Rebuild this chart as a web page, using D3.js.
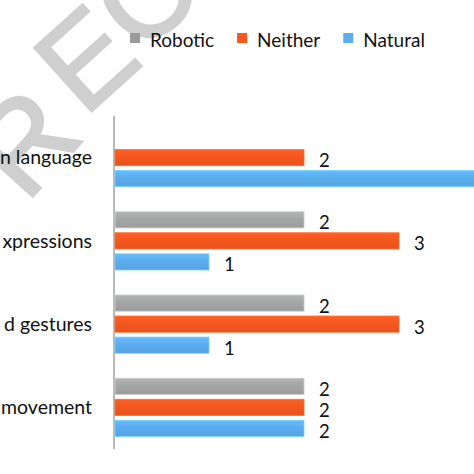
<!DOCTYPE html>
<html>
<head>
<meta charset="utf-8">
<script src="https://cdn.jsdelivr.net/npm/d3@7"></script>
<style>
  body { margin: 0; background: #fff; }
  svg { display: block; font-family: Lato, "Open Sans", sans-serif; }
</style>
</head>
<body>
<div id="chart"></div>
<script>
const width = 474, height = 474;

// data (top to bottom); labels as far as the crop shows them
const categories = ["n language", "xpressions", "d gestures", "movement"];
const series = ["Robotic", "Neither", "Natural"];
const robotic = [0, 2, 2, 2];
const neither = [2, 3, 3, 2];
const natural = [4, 1, 1, 2];
const colors = ["#a4a6a5", "#f4571f", "#5cacee"];

const values = [robotic, neither, natural];

const svg = d3.select("#chart").append("svg")
  .attr("width", width)
  .attr("height", height);

const defs = svg.append("defs");
colors.forEach((c, i) => {
  const g = defs.append("linearGradient")
    .attr("id", "grad" + i)
    .attr("x1", 0).attr("y1", 0).attr("x2", 0).attr("y2", 1);
  g.append("stop").attr("offset", "0%").attr("stop-color", d3.color(c).brighter(0.25));
  g.append("stop").attr("offset", "45%").attr("stop-color", c);
  g.append("stop").attr("offset", "100%").attr("stop-color", d3.color(c).darker(0.15));
});

// watermark, letters laid along an arc
const stamp = [
  {ch: "R", t: "translate(26,204) rotate(-48)"},
  {ch: "E", t: "translate(84,118) rotate(-42)"},
  {ch: "C", t: "translate(138,56) rotate(-40)"}
];
svg.append("g").selectAll("text")
  .data(stamp)
  .join("text")
  .attr("transform", d => d.t)
  .attr("font-family", "'Liberation Sans', Arial, sans-serif")
  .attr("font-size", 124)
  .attr("fill", "#cfcfcf")
  .attr("stroke", "#cfcfcf")
  .attr("stroke-width", 2.5)
  .text(d => d.ch);

const x = d3.scaleLinear().domain([0, 4]).range([114, 494]);

const y = d3.scaleBand()
  .domain(categories)
  .range([116, 449])
  .paddingInner(0.3)
  .paddingOuter(0.15);

const ySub = d3.scaleBand()
  .domain(series)
  .range([0, y.bandwidth()])
  .paddingInner(0.23);

// axis line
svg.append("line")
  .attr("x1", x(0)).attr("x2", x(0))
  .attr("y1", y.range()[0]).attr("y2", y.range()[1])
  .attr("stroke", "#8a8a8a")
  .attr("stroke-width", 1.2);

// category labels
svg.append("g").selectAll("text")
  .data(categories)
  .join("text")
  .attr("x", 92)
  .attr("y", d => y(d) + ySub("Neither") + ySub.bandwidth() / 2)
  .attr("dy", "0.35em")
  .attr("text-anchor", "end")
  .attr("font-size", 19.5)
  .attr("fill", "#111")
  .text(d => d);

const rows = [];
categories.forEach((c, i) => {
  series.forEach((s, j) => {
    rows.push({cat: c, s: s, j: j, v: values[j][i]});
  });
});
const shown = rows.filter(d => d.v > 0);

svg.append("g").selectAll("rect")
  .data(shown)
  .join("rect")
  .attr("x", x(0) + 1)
  .attr("y", d => y(d.cat) + ySub(d.s))
  .attr("width", d => x(d.v) - x(0) - 1)
  .attr("height", ySub.bandwidth())
  .attr("fill", d => `url(#grad${d.j})`)
  .attr("stroke", d => d3.color(colors[d.j]).brighter(0.6))
  .attr("stroke-width", 0.8);

svg.append("g").selectAll("text")
  .data(shown)
  .join("text")
  .attr("x", d => x(d.v) + 15)
  .attr("y", d => y(d.cat) + ySub(d.s) + ySub.bandwidth() / 2 + 3)
  .attr("dy", "0.35em")
  .attr("font-size", 18.5)
  .attr("fill", "#111")
  .text(d => d.v);

// legend
const legend = svg.append("g");
let lx = 130;
series.forEach((s, j) => {
  legend.append("rect")
    .attr("x", lx).attr("y", 33)
    .attr("width", 10).attr("height", 10)
    .attr("fill", j === 0 ? "#989b9a" : colors[j]);
  const t = legend.append("text")
    .attr("x", lx + 20).attr("y", 47)
    .attr("font-size", 19)
    .attr("fill", "#111")
    .text(s);
  lx += 20 + t.node().getComputedTextLength() + 23;
});
</script>
</body>
</html>
